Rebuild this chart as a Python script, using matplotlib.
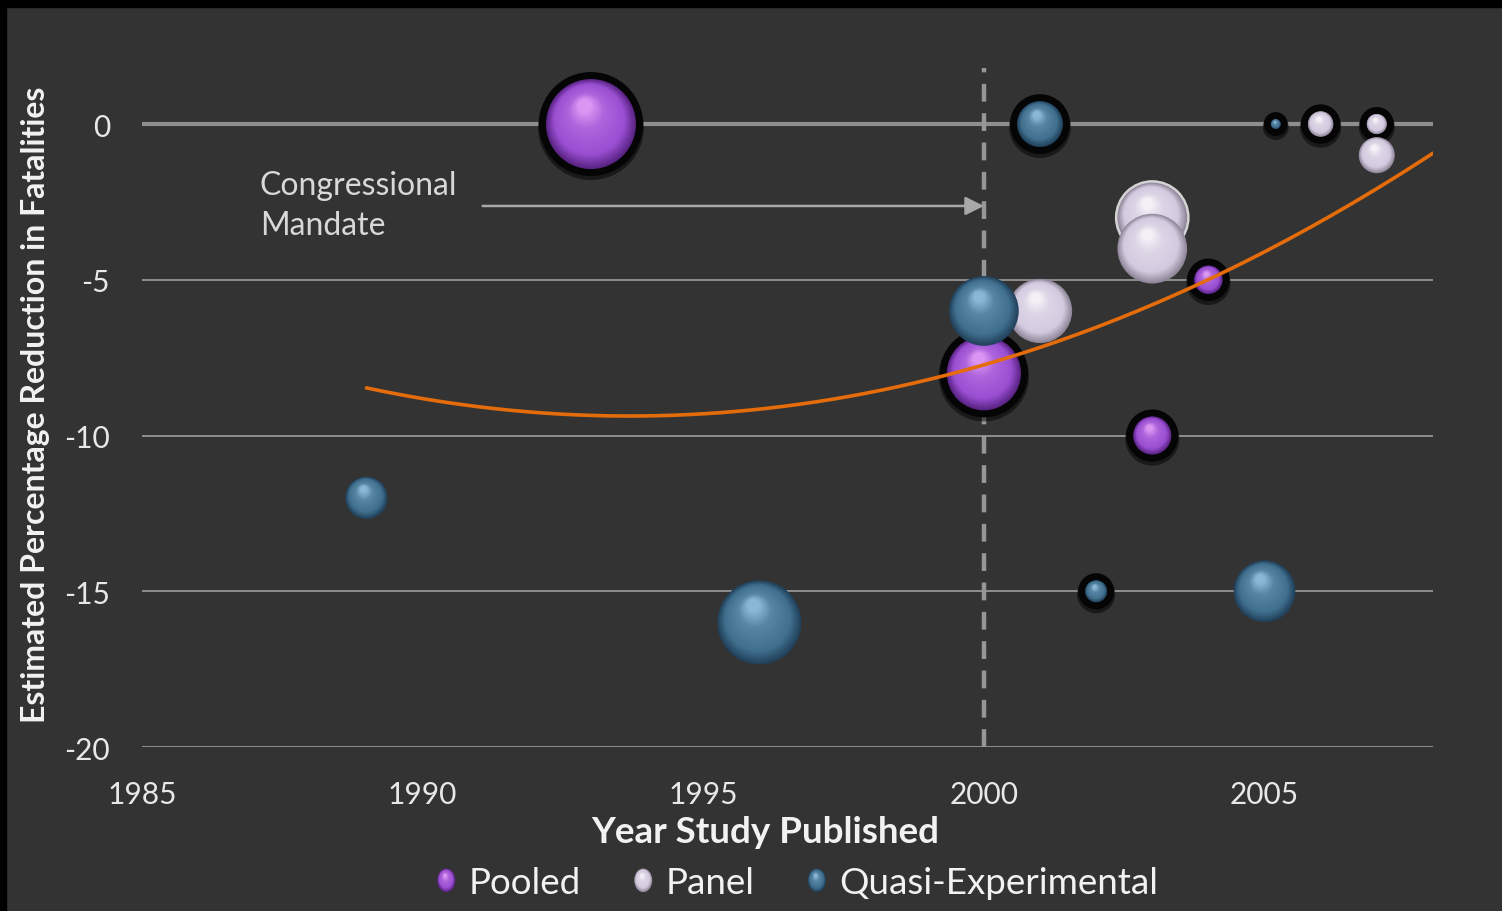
import matplotlib.pyplot as plt
import numpy as np
from matplotlib.patches import Circle, Ellipse, Rectangle, Patch
from matplotlib.transforms import ScaledTranslation
from matplotlib.legend_handler import HandlerBase
from matplotlib.colors import to_rgb

# study results: publication year, estimated % reduction, study weight (bubble area)
years_pooled = [1993, 2000, 2003, 2004]
effect_pooled = [0, -8, -10, -5]
weight_pooled = [100, 68, 18, 10]

years_panel = [2001, 2003, 2003, 2006, 2007, 2007]
effect_panel = [-6, -3, -4, 0, 0, -1]
weight_panel = [51, 60, 60, 8, 5, 16]

years_quasi = [1989, 1996, 2000, 2001, 2002, 2005, 2005.2]
effect_quasi = [-12, -16, -6, 0, -15, -15, 0]
weight_quasi = [22, 87, 60, 26, 6, 47, 1.2]

series_names = ['Pooled', 'Panel', 'Quasi-Experimental']
x_ticks = [1985, 1990, 1995, 2000, 2005]
y_ticks = [-20, -15, -10, -5, 0]
mandate_year = 2000

# outline drawn around individual bubbles
ring_pooled = ['k', 'k', 'k', 'k']
ring_panel = [None, 'w', None, 'k', 'k', None]
ring_quasi = [None, None, None, 'k', 'k', None, 'k']

# rim / body / highlight colours for the shaded spheres
palettes = {
    'Pooled': ('#5a2384', '#9a4fd2', '#f4b0ff'),
    'Panel': ('#8f8799', '#d3cadf', '#ffffff'),
    'Quasi-Experimental': ('#21415b', '#41708f', '#a6d3f0'),
}

DPI = 100
BG = '#333333'
plt.rcParams['font.family'] = ['Lato', 'DejaVu Sans']
plt.rcParams['axes.unicode_minus'] = False

fig = plt.figure(figsize=(15.02, 9.12), dpi=DPI, facecolor=BG)
ax = fig.add_axes([0.0945, 0.1798, 0.8595, 0.7514])
ax.set_facecolor(BG)
ax.set_xlim(1985, 2008)
ax.set_ylim(-20, 2)
ax.autoscale(False)

# thin black frame along the top and left edges
fig.patches.append(Rectangle((0, 1 - 8 / 912), 1, 8 / 912, transform=fig.transFigure,
                             color='black', zorder=0))
fig.patches.append(Rectangle((0, 0), 6 / 1502, 1, transform=fig.transFigure,
                             color='black', zorder=0))


def mix(a, b, t):
    a, b = np.array(to_rgb(a)), np.array(to_rgb(b))
    return tuple(a + (b - a) * t)


def shade(pal, t):
    rim, body, light = pal
    if t < 0.25:
        return mix(rim, body, t / 0.25)
    if t < 0.7:
        return mix(body, mix(body, light, 0.22), (t - 0.25) / 0.45)
    return mix(mix(body, light, 0.22), mix(body, light, 0.72), (t - 0.7) / 0.3)


def sphere(x, y, r_px, pal, ring, z):
    tr = fig.dpi_scale_trans + ScaledTranslation(x, y, ax.transData)
    r = r_px / DPI
    if ring == 'k':
        ax.add_patch(Circle((0, -3 / DPI), r + 8 / DPI, transform=tr, fc='black',
                            alpha=0.5, lw=0, zorder=z))
        ax.add_patch(Circle((0, 0), r + 7 / DPI, transform=tr, fc='#050505',
                            lw=0, zorder=z))
    elif ring == 'w':
        ax.add_patch(Circle((0, 0), r + 2.5 / DPI, transform=tr, fc='#d4d4d4',
                            lw=0, zorder=z))
    n = 40
    for i in range(n):
        t = i / (n - 1)
        ax.add_patch(Circle((-0.14 * t * r, 0.4 * t * r), r * (1 - 0.85 * t),
                            transform=tr, fc=shade(pal, t), lw=0, zorder=z))


# gridlines, zero line and the mandate marker
for yv in y_ticks:
    ax.axhline(yv, color='#8e8e8e', lw=1.4 if yv else 3.0, zorder=0.5)
ax.plot([mandate_year, mandate_year], [-20, 1.8], color='#969696', lw=3.2,
        dashes=(4, 2.6), zorder=1)

ax.annotate('', xy=(mandate_year, -2.63), xytext=(1991.07, -2.63),
            arrowprops=dict(arrowstyle='-|>', color='#a8a8a8', lw=1.8,
                            mutation_scale=28, shrinkA=0, shrinkB=0), zorder=2)
ax.text(1987.1, -2.6, 'Congressional\nMandate', color='#d8d8d8', fontsize=23,
        ha='left', va='center', linespacing=1.42, zorder=2)

# bubbles
groups = [
    ('Pooled', years_pooled, effect_pooled, weight_pooled, ring_pooled),
    ('Panel', years_panel, effect_panel, weight_panel, ring_panel),
    ('Quasi-Experimental', years_quasi, effect_quasi, weight_quasi, ring_quasi),
]
z = 3.0
for name, xs, ys, ws, rings in groups:
    for x, y, w, ring in zip(xs, ys, ws, rings):
        sphere(x, y, 4.5 * np.sqrt(w), palettes[name], ring, z)
        z += 0.01

# quadratic trend through all studies
x_all = np.array(years_pooled + years_panel + years_quasi, dtype=float)
y_all = np.array(effect_pooled + effect_panel + effect_quasi, dtype=float)
coef = np.polyfit(x_all, y_all, 2)
xt = np.linspace(1989, 2008, 200)
ax.plot(xt, np.polyval(coef, xt), color='#e46c0a', lw=2.6, zorder=10,
        solid_capstyle='round')

# axes styling
for s in ax.spines.values():
    s.set_visible(False)
ax.set_xticks(x_ticks)
ax.set_yticks(y_ticks)
ax.tick_params(length=0, labelsize=21.5, colors='#e8e8e8')
ax.tick_params(axis='y', pad=23)
ax.tick_params(axis='x', pad=24)

ax.set_xlabel('Year Study Published', fontsize=26.5, fontweight='bold', color='#f2f2f2')
ax.xaxis.label.set_va('center')
ax.xaxis.set_label_coords(0.4826, -0.1226)
ax.set_ylabel('Estimated Percentage Reduction in Fatalities', fontsize=23,
              fontweight='bold', color='#f2f2f2')
ax.yaxis.label.set_va('center')
ax.yaxis.set_label_coords(-0.0825, 0.5005)


class SphereHandler(HandlerBase):
    def __init__(self, pal):
        super().__init__()
        self.pal = pal

    def create_artists(self, legend, orig_handle, xdescent, ydescent, width,
                       height, fontsize, trans):
        cx, cy = width / 2 - xdescent, height / 2 - ydescent
        w, h = 13, 17
        arts = []
        n = 16
        for i in range(n):
            t = i / (n - 1)
            s = 1 - 0.85 * t
            arts.append(Ellipse((cx - 0.14 * t * w / 2, cy + 0.4 * t * h / 2), w * s, h * s,
                                fc=shade(self.pal, t), lw=0, transform=trans))
        return arts


handles = [Patch(label=n) for n in series_names]
fig.legend(handles=handles, loc='center', bbox_to_anchor=(0.531, 0.031), ncol=3,
           frameon=False, fontsize=26.5, labelcolor='#f2f2f2', handlelength=0.5,
           handleheight=0.7, handletextpad=0.35, columnspacing=1.45,
           handler_map={h: SphereHandler(palettes[h.get_label()]) for h in handles})

fig.savefig('out.png', dpi=DPI, facecolor=BG)
